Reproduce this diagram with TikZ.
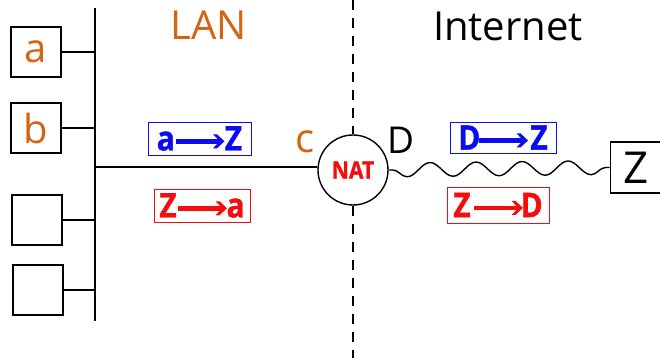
\documentclass[tikz,border=0pt]{standalone}
\usepackage{fontspec}
\setmainfont{Open Sans}
\newfontfamily\pktfont[FakeStretch=0.88,BoldFeatures={FakeBold=1}]{Open Sans}
\usetikzlibrary{decorations.pathmorphing}

\definecolor{lanorange}{RGB}{214,98,18}
\definecolor{pktblue}{RGB}{12,12,240}
\definecolor{pktred}{RGB}{245,12,12}

\begin{document}
\begin{tikzpicture}[x=1pt,y=-1pt,
  host/.style={draw,line width=1.8pt,minimum width=50pt,minimum height=50pt,inner sep=0pt,
               text=lanorange,font=\fontsize{40}{40}\selectfont},
  link/.style={line width=1.4pt},
  pkt/.style={draw,line width=0.9pt,inner sep=0pt,font=\pktfont\bfseries\fontsize{34}{34}\selectfont},
  big/.style={inner sep=0pt,font=\fontsize{40}{40}\selectfont}
]
\useasboundingbox (0,0) rectangle (660,358);

% hosts on the LAN bus
\node[host] (ha) at (36,52) {a};
\node[host] (hb) at (36,128) {b};
\node[host] (hc) at (37,220) {};
\node[host] (hd) at (38,290) {};

\coordinate (bustop) at (95,8);
\coordinate (busbot) at (95,321);
\draw[link] (bustop) -- (busbot);
\foreach \h in {ha,hb,hc,hd}
  \draw[link] (\h.east) -- (\h.east -| bustop);

% NAT router
\node[circle,draw,line width=1.4pt,minimum size=70pt,inner sep=0pt,text=pktred,
      font=\pktfont\bfseries\fontsize{24}{24}\selectfont] (nat) at (353,170) {NAT};

\coordinate (lanjoin) at (95,167);
\draw[link] (lanjoin) -- (lanjoin -| nat.west);

% LAN / Internet boundary
\coordinate (dtop) at (353,0);
\coordinate (dbot) at (353,358);
\draw[link,dash pattern=on 10pt off 8pt] (dtop) -- (nat.north);
\draw[link,dash pattern=on 10pt off 8pt] (nat.south) -- (dbot);

% remote host
\node[draw,line width=1.8pt,minimum width=51pt,minimum height=51pt,inner sep=0pt,
      font=\fontsize{44}{44}\selectfont] (zb) at (636,167.5) {Z};
\draw[link,decorate,decoration={snake,segment length=46pt,amplitude=7pt,mirror,
      pre length=4pt,post length=2pt}] (nat.east) -- (zb.west);

% region titles and addresses
\node[big,text=lanorange] (lan) at (209,25) {LAN};
\node[big] (inet) at (508,26) {Internet};
\node[big,text=lanorange] (addrc) at (305,142) {c};
\node[inner sep=0pt,font=\fontsize{37}{37}\selectfont] (addrd) at (401,140) {D};

% packets: source and destination, with the arrow drawn in the gap between them
\node[pkt,draw=pktblue,text=pktblue,minimum width=103pt,minimum height=33pt] (p1) at (199.5,138.5) {a\hspace{50pt}Z};
\node[pkt,draw=pktred,text=pktred,minimum width=96pt,minimum height=33pt] (p2) at (202,205.5) {Z\hspace{50pt}a};
\node[pkt,draw=pktblue,text=pktblue,minimum width=106pt,minimum height=31pt] (p3) at (503,137.5) {D\hspace{50pt}Z};
\node[pkt,draw=pktred,text=pktred,minimum width=102pt,minimum height=36pt] (p4) at (498,205) {Z\hspace{50pt}D};

\foreach \p/\c in {p1/pktblue,p2/pktred,p3/pktblue,p4/pktred}{
  \begin{scope}[shift={(\p.base)}]
    \fill[\c] (-24,-6.8) rectangle (20,-11.6);
    \fill[\c] (25,-9.2) -- (17.5,-16.2) -- (13.5,-16.2) -- (20.3,-9.2) -- (13.5,-2.2) -- (17.5,-2.2) -- cycle;
  \end{scope}
}
\end{tikzpicture}
\end{document}
